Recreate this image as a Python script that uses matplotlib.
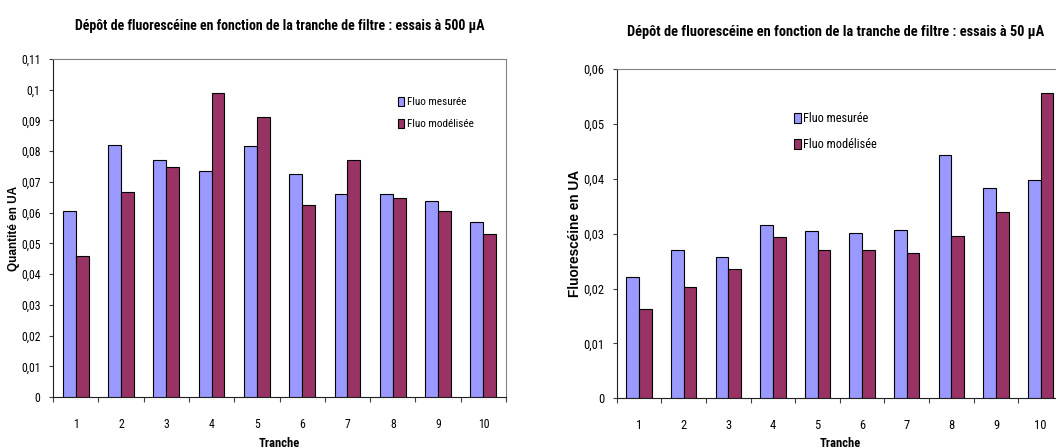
import matplotlib
matplotlib.use("Agg")
import matplotlib.pyplot as plt
import numpy as np
from matplotlib.patches import Patch

plt.rcParams['font.family'] = ['Roboto Condensed', 'DejaVu Sans']

tranches = ['1', '2', '3', '4', '5', '6', '7', '8', '9', '10']

mes_500 = [0.0605, 0.0820, 0.0771, 0.0735, 0.0816, 0.0727, 0.0662, 0.0662, 0.0637, 0.0568]
mod_500 = [0.0459, 0.0666, 0.0747, 0.0990, 0.0910, 0.0625, 0.0771, 0.0649, 0.0605, 0.0532]

mes_50 = [0.0221, 0.0270, 0.0258, 0.0315, 0.0304, 0.0302, 0.0307, 0.0443, 0.0384, 0.0397]
mod_50 = [0.0163, 0.0203, 0.0236, 0.0293, 0.0270, 0.0271, 0.0265, 0.0296, 0.0340, 0.0556]

yticks_500 = [0, 0.01, 0.02, 0.03, 0.04, 0.05, 0.06, 0.07, 0.08, 0.09, 0.1, 0.11]
ylabels_500 = ['0', '0,01', '0,02', '0,03', '0,04', '0,05', '0,06', '0,07', '0,08', '0,09', '0,1', '0,11']
yticks_50 = [0, 0.01, 0.02, 0.03, 0.04, 0.05, 0.06]
ylabels_50 = ['0', '0,01', '0,02', '0,03', '0,04', '0,05', '0,06']

C_MES = '#9999FF'
C_MOD = '#993366'

fig = plt.figure(figsize=(10.56, 4.48), dpi=100)


def draw(ax, mes, mod, yticks, ylabels, ylabel, title, title_xy, title_fs,
         ylab_x, ylab_fs, tick_fs, legend_pos, legend_fs):
    x = np.arange(len(tranches))
    w = 0.285
    ax.bar(x - w / 2, mes, w, color=C_MES, edgecolor='black', linewidth=0.8, zorder=3)
    ax.bar(x + w / 2, mod, w, color=C_MOD, edgecolor='black', linewidth=0.8, zorder=3)
    ax.set_xlim(-0.5, len(tranches) - 0.5)
    ax.set_ylim(yticks[0], yticks[-1])
    ax.set_yticks(yticks)
    ax.set_yticklabels(ylabels, fontsize=tick_fs)
    ax.set_xticks(x)
    ax.set_xticklabels(tranches, fontsize=tick_fs)
    ax.tick_params(axis='x', which='major', length=0, pad=15)
    ax.set_xticks(np.arange(-0.5, len(tranches)), minor=True)
    ax.tick_params(axis='x', which='minor', length=3.5, width=0.8, direction='out', color='#404040')
    ax.tick_params(axis='y', length=3, width=0.8, direction='out', pad=6, color='#404040')
    for s in ['top', 'right']:
        ax.spines[s].set_color('#808080')
        ax.spines[s].set_linewidth(0.8)
    for s in ['left', 'bottom']:
        ax.spines[s].set_color('#202020')
        ax.spines[s].set_linewidth(0.8)
    ax.set_ylabel(ylabel, fontsize=ylab_fs, fontweight='bold', family='Liberation Sans')
    ax.yaxis.set_label_coords(ylab_x, 0.5)
    ax.set_xlabel('Tranche', fontsize=9, fontweight='bold')
    ax.xaxis.set_label_coords(0.5, -0.118)
    ax.text(title_xy[0], title_xy[1], title, transform=ax.transAxes, ha='center', va='center',
            fontsize=title_fs, fontweight='bold')
    handles = [Patch(facecolor=C_MES, edgecolor='black', linewidth=0.8),
               Patch(facecolor=C_MOD, edgecolor='black', linewidth=0.8)]
    ax.legend(handles, ['Fluo mesurée', 'Fluo modélisée'], loc='upper left',
              bbox_to_anchor=legend_pos, frameon=False, fontsize=legend_fs,
              handlelength=0.55, handleheight=0.85, handletextpad=0.2,
              labelspacing=1.05, borderaxespad=0, borderpad=0)


ax1 = fig.add_axes([0.0502, 0.1138, 0.4290, 0.7546])
draw(ax1, mes_500, mod_500, yticks_500, ylabels_500, 'Quantité en UA',
     'Dépôt de fluorescéine en fonction de la tranche de filtre : essais à 500 µA',
     (0.5, 1.097), 10, -0.073, 8.5, 8.5, (0.762, 0.888), 8)

ax2 = fig.add_axes([0.5840, 0.1110, 0.4226, 0.7350])
draw(ax2, mes_50, mod_50, yticks_50, ylabels_50, 'Fluorescéine en UA',
     'Dépôt de fluorescéine en fonction de la tranche de filtre : essais à 50 µA',
     (0.491, 1.112), 10.4, -0.078, 9.8, 9, (0.397, 0.868), 8.8)

fig.savefig('out.png', dpi=100)
